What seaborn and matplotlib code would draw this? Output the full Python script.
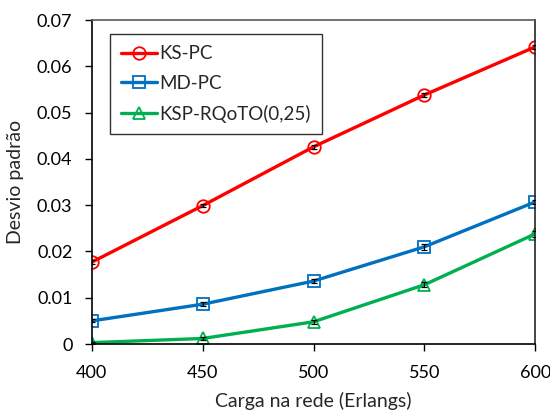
import pandas as pd
import matplotlib
matplotlib.use('Agg')
import matplotlib.pyplot as plt
import seaborn as sns

# data
carga = [400, 450, 500, 550, 600]
ks_pc = [0.0177, 0.0299, 0.0426, 0.0538, 0.0642]
md_pc = [0.0050, 0.0086, 0.0136, 0.0210, 0.0307]
ksp_rqoto = [0.0003, 0.0012, 0.0048, 0.0128, 0.0238]
err_ks = [0.0004, 0.0004, 0.0005, 0.0005, 0.0005]
err_md = [0.0003, 0.0004, 0.0005, 0.0006, 0.0005]
err_ksp = [0.0002, 0.0003, 0.0004, 0.0005, 0.0006]
series = ['KS-PC', 'MD-PC', 'KSP-RQoTO(0,25)']

df = pd.DataFrame({'Carga': carga * 3,
                   'Desvio': ks_pc + md_pc + ksp_rqoto,
                   'Err': err_ks + err_md + err_ksp,
                   'Serie': [s for s in series for _ in carga]})

sns.set_style('white')
plt.rcParams['font.family'] = ['Lato', 'DejaVu Sans']

colors = {'KS-PC': '#ff0000', 'MD-PC': '#0070c0', 'KSP-RQoTO(0,25)': '#00b050'}
markers = {'KS-PC': 'o', 'MD-PC': 's', 'KSP-RQoTO(0,25)': '^'}

fig = plt.figure(figsize=(5.5, 4.17), dpi=100)
ax = fig.add_axes([0.167, 0.175, 0.806, 0.777])

sns.lineplot(data=df, x='Carga', y='Desvio', hue='Serie', style='Serie',
             palette=colors, markers=markers, dashes=False, linewidth=2.4,
             markersize=9, markerfacecolor='none', markeredgewidth=1.3, ax=ax)

# make marker edges match line colours
for line in ax.get_lines():
    line.set_markeredgecolor(line.get_color())
    line.set_markerfacecolor('none')

for s in series:
    sub = df[df['Serie'] == s]
    ax.errorbar(sub['Carga'], sub['Desvio'], yerr=sub['Err'], fmt='none',
                ecolor='black', elinewidth=0.9, capsize=2.5, capthick=0.9, zorder=5)

ax.set_xlim(400, 600)
ax.set_ylim(0, 0.07)
ax.set_xticks([400, 450, 500, 550, 600])
ax.set_yticks([0, 0.01, 0.02, 0.03, 0.04, 0.05, 0.06, 0.07])
ax.set_yticklabels(['0', '0.01', '0.02', '0.03', '0.04', '0.05', '0.06', '0.07'])
ax.tick_params(axis='both', direction='out', length=5, width=1, labelsize=13,
               bottom=True, left=True, colors='black')
ax.tick_params(axis='y', pad=9)
ax.tick_params(axis='x', pad=10)
ax.spines['left'].set_color('black')
ax.spines['bottom'].set_color('black')
ax.spines['top'].set_color('#595959')
ax.spines['right'].set_color('#262626')
for sp in ax.spines.values():
    sp.set_linewidth(1.2)
ax.set_xlabel('Carga na rede (Erlangs)', fontsize=14, labelpad=8)
ax.set_ylabel('Desvio padrão', fontsize=14, labelpad=9)

handles, labels = ax.get_legend_handles_labels()
leg = ax.legend(handles, labels, loc='upper left', bbox_to_anchor=(0.041, 0.957),
                borderaxespad=0, fontsize=13.5, frameon=True, fancybox=False,
                edgecolor='black', handlelength=1.9, handletextpad=0.15,
                labelspacing=0.68, borderpad=0.6)
leg.get_frame().set_linewidth(1)

plt.savefig('out.png', dpi=100)
